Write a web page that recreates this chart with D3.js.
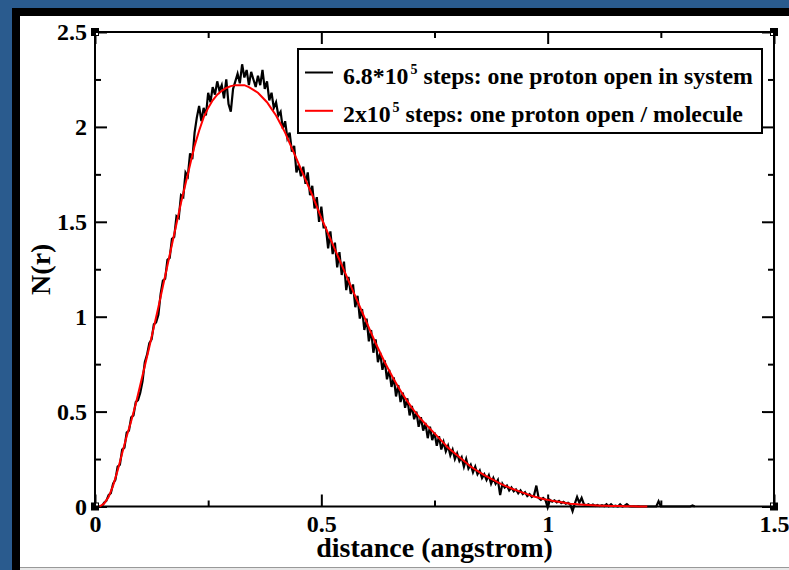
<!DOCTYPE html>
<html>
<head>
<meta charset="utf-8">
<script src="https://cdn.jsdelivr.net/npm/d3@7"></script>
<style>
  body { margin: 0; background: #2a5b8e; }
  svg { display: block; }
  text { font-family: "Liberation Serif", "Times New Roman", serif; font-weight: bold; }
</style>
</head>
<body>
<div id="chart"></div>
<script>
// N(r) vs distance, two runs
var xTicks = [0, 0.5, 1, 1.5];
var xMinor = [0.25, 0.75, 1.25];
var yTicks = [0, 0.5, 1, 1.5, 2, 2.5];
var yMinor = [0.25, 0.75, 1.25, 1.75, 2.25];

var seriesNames = ["6.8*10", "2x10"];
var seriesRest = [" steps: one proton open in system", " steps: one proton open / molecule"];

// black run, distance starts at 0.01, step 0.005
var blackStart = 0.01, blackStep = 0.005;
var blackVals = [
 0, 0, 0.02, 0.03, 0.06, 0.07, 0.12, 0.14, 0.21, 0.22,
 0.30, 0.31, 0.39, 0.40, 0.47, 0.48, 0.55, 0.56, 0.60, 0.66,
 0.76, 0.80, 0.86, 0.88, 0.96, 0.97, 1.01, 1.12, 1.19, 1.20,
 1.30, 1.31, 1.41, 1.42, 1.53, 1.52, 1.64, 1.63, 1.76, 1.74,
 1.86, 1.83, 1.97, 2.05, 2.11, 2.03, 2.10, 2.06, 2.18, 2.13,
 2.21, 2.17, 2.24, 2.19, 2.22, 2.15, 2.25, 2.12, 2.08, 2.20,
 2.24, 2.28, 2.23, 2.33, 2.26, 2.30, 2.22, 2.29, 2.25, 2.21,
 2.27, 2.22, 2.30, 2.20, 2.24, 2.14, 2.18, 2.10, 2.13, 2.06,
 2.08, 1.99, 2.03, 1.94, 1.97, 1.87, 1.90, 1.76, 1.80, 1.74,
 1.79, 1.70, 1.76, 1.64, 1.69, 1.57, 1.63, 1.50, 1.58, 1.47,
 1.47, 1.36, 1.45, 1.33, 1.39, 1.26, 1.34, 1.22, 1.29, 1.14,
 1.21, 1.12, 1.17, 1.05, 1.11, 0.99, 1.04, 0.93, 0.99, 0.87,
 0.93, 0.81, 0.88, 0.76, 0.81, 0.72, 0.77, 0.67, 0.72, 0.63,
 0.68, 0.58, 0.64, 0.55, 0.60, 0.52, 0.57, 0.48, 0.53, 0.46,
 0.50, 0.42, 0.47, 0.40, 0.44, 0.36, 0.42, 0.35, 0.39, 0.32,
 0.37, 0.30, 0.34, 0.29, 0.32, 0.27, 0.30, 0.25, 0.28, 0.24,
 0.26, 0.21, 0.25, 0.20, 0.22, 0.18, 0.21, 0.17, 0.19, 0.15,
 0.17, 0.14, 0.165, 0.12, 0.15, 0.12, 0.14, 0.06, 0.12, 0.10,
 0.11, 0.085, 0.10, 0.08, 0.09, 0.07, 0.085, 0.065, 0.075, 0.055,
 0.065, 0.05, 0.06, 0.11, 0.045, 0.035, 0.045, 0.035, -0.005, 0.035,
 0.025, 0.032, 0.022, 0.03, 0.018, 0.025, 0.015, 0.02, 0.01, -0.025,
 0.015, 0.05, 0.02, 0.045, 0.012, 0.005, 0.012, 0.004, 0.01, 0.003,
 0.008, 0.002, 0.007, 0.002, 0.012, 0.001, 0.012, 0.001, 0.004, 0,
 0.012, 0, 0.004, 0.012, 0.002, 0, 0.001, 0, 0.001, 0,
 0, 0, 0, 0, 0, 0, 0, 0.028, 0, 0,
 0, 0, 0, 0, 0, 0, 0, 0, 0, 0,
 0, 0, 0.005, 0
];

// red run, distance starts at 0.01, step 0.01
var redStart = 0.01, redStep = 0.01;
var redVals = [
 0, 0.015, 0.05, 0.11, 0.19, 0.28, 0.37, 0.45, 0.54, 0.64,
 0.74, 0.84, 0.945, 1.05, 1.16, 1.27, 1.38, 1.49, 1.60, 1.70,
 1.80, 1.90, 1.98, 2.05, 2.10, 2.14, 2.17, 2.19, 2.205, 2.215,
 2.22, 2.22, 2.22, 2.21, 2.195, 2.18, 2.155, 2.13, 2.095, 2.06,
 2.015, 1.97, 1.915, 1.86, 1.805, 1.75, 1.695, 1.64, 1.58, 1.52,
 1.465, 1.41, 1.355, 1.30, 1.245, 1.19, 1.135, 1.08, 1.025, 0.97,
 0.915, 0.86, 0.81, 0.76, 0.715, 0.67, 0.63, 0.59, 0.555, 0.52,
 0.49, 0.46, 0.435, 0.41, 0.385, 0.36, 0.335, 0.31, 0.29, 0.27,
 0.25, 0.23, 0.21, 0.195, 0.18, 0.165, 0.152, 0.14, 0.127, 0.115,
 0.105, 0.095, 0.086, 0.077, 0.069, 0.060, 0.053, 0.046, 0.040, 0.035,
 0.030, 0.026, 0.022, 0.018, 0.015, 0.013, 0.011, 0.009, 0.0075, 0.006,
 0.005, 0.004, 0.0035, 0.003, 0.0025, 0.002, 0.0015, 0.001, 0.0008, 0.0005,
 0.0003, 0
];

var w = 789, h = 570;
var pLeft = 95, pRight = 774, pTop = 32, pBottom = 506.5;

var svg = d3.select("#chart").append("svg")
    .attr("width", w)
    .attr("height", h);

// page frame
svg.append("rect").attr("width", w).attr("height", h).attr("fill", "#2a5b8e");
svg.append("rect").attr("x", 12).attr("y", 8).attr("width", w).attr("height", h).attr("fill", "#000");
svg.append("rect").attr("x", 20).attr("y", 16).attr("width", w).attr("height", 551).attr("fill", "#fff");
svg.append("rect").attr("x", 20).attr("y", 567).attr("width", w).attr("height", 1).attr("fill", "#999");
svg.append("rect").attr("x", 20).attr("y", 568).attr("width", w).attr("height", 2).attr("fill", "#e8e8e8");

var x = d3.scaleLinear().domain([0, 1.5]).range([pLeft, pRight]);
var y = d3.scaleLinear().domain([0, 2.5]).range([pBottom, pTop]);

var fmt = d3.format("~g");

function styleAxis(g) {
    g.select(".domain").remove();
    g.selectAll("line").attr("stroke", "#000").attr("stroke-width", 2);
    g.selectAll("text").attr("fill", "#000").style("font-size", "24px");
}

// bottom / left with labels
svg.append("g").attr("transform", "translate(0," + pBottom + ")")
    .call(d3.axisBottom(x).tickValues(xTicks).tickSize(-12).tickPadding(8).tickFormat(fmt)).call(styleAxis);
svg.append("g").attr("transform", "translate(0," + pBottom + ")")
    .call(d3.axisBottom(x).tickValues(xMinor).tickSize(-6).tickFormat("")).call(styleAxis);
svg.append("g").attr("transform", "translate(" + pLeft + ",0)")
    .call(d3.axisLeft(y).tickValues(yTicks).tickSize(-12).tickPadding(8).tickFormat(fmt)).call(styleAxis);
svg.append("g").attr("transform", "translate(" + pLeft + ",0)")
    .call(d3.axisLeft(y).tickValues(yMinor).tickSize(-6).tickFormat("")).call(styleAxis);
// mirrored ticks top / right
svg.append("g").attr("transform", "translate(0," + pTop + ")")
    .call(d3.axisTop(x).tickValues(xTicks).tickSize(-12).tickFormat("")).call(styleAxis);
svg.append("g").attr("transform", "translate(0," + pTop + ")")
    .call(d3.axisTop(x).tickValues(xMinor).tickSize(-6).tickFormat("")).call(styleAxis);
svg.append("g").attr("transform", "translate(" + pRight + ",0)")
    .call(d3.axisRight(y).tickValues(yTicks).tickSize(-12).tickFormat("")).call(styleAxis);
svg.append("g").attr("transform", "translate(" + pRight + ",0)")
    .call(d3.axisRight(y).tickValues(yMinor).tickSize(-6).tickFormat("")).call(styleAxis);

// frame
svg.append("rect")
    .attr("x", pLeft).attr("y", pTop)
    .attr("width", pRight - pLeft).attr("height", pBottom - pTop)
    .attr("fill", "none").attr("stroke", "#000").attr("stroke-width", 2);

// little corner squares
[[pLeft, pTop, 1, 1], [pRight, pTop, -1, 1], [pLeft, pBottom, 1, -1], [pRight, pBottom, -1, -1]].forEach(function(c) {
    svg.append("rect").attr("x", c[0] - 4).attr("y", c[1] - 4).attr("width", 8).attr("height", 8).attr("fill", "#000");
    svg.append("rect")
        .attr("x", c[2] > 0 ? c[0] + 1 : c[0] - 3)
        .attr("y", c[3] > 0 ? c[1] + 1 : c[1] - 3)
        .attr("width", 2).attr("height", 2).attr("fill", "#fff");
});

var blackData = blackVals.map(function(v, i) { return { d: blackStart + i * blackStep, n: v }; });
var redData = redVals.map(function(v, i) { return { d: redStart + i * redStep, n: v }; });

var line = d3.line()
    .x(function(p) { return x(p.d); })
    .y(function(p) { return y(p.n); });

svg.append("path")
    .attr("d", line(blackData))
    .attr("fill", "none")
    .attr("stroke", "#000")
    .attr("stroke-width", 2.2);

svg.append("path")
    .attr("d", line(redData))
    .attr("fill", "none")
    .attr("stroke", "#ff0000")
    .attr("stroke-width", 2);

// axis titles
svg.append("text")
    .attr("x", (pLeft + pRight) / 2)
    .attr("y", 557)
    .attr("text-anchor", "middle")
    .style("font-size", "28px")
    .text("distance (angstrom)");

svg.append("text")
    .attr("transform", "translate(50," + ((pTop + pBottom) / 2) + ") rotate(-90)")
    .attr("text-anchor", "middle")
    .style("font-size", "28px")
    .text("N(r)");

// legend
var legend = svg.append("g");
legend.append("rect")
    .attr("x", 298).attr("y", 49)
    .attr("width", 464).attr("height", 84)
    .attr("fill", "#fff").attr("stroke", "#000").attr("stroke-width", 2);

var legendColors = ["#000", "#ff0000"];
seriesNames.forEach(function(name, i) {
    var ly = 72.5 + i * 38.3;
    legend.append("line")
        .attr("x1", 305).attr("x2", 333)
        .attr("y1", ly).attr("y2", ly)
        .attr("stroke", legendColors[i]).attr("stroke-width", 2);
    var t = legend.append("text")
        .attr("x", 343)
        .attr("y", ly + 11)
        .style("font-size", "23.8px");
    t.append("tspan").text(name);
    t.append("tspan").attr("dx", 2).attr("dy", -10).style("font-size", "14px").text("5");
    t.append("tspan").attr("dy", 10).text(seriesRest[i]);
});
</script>
</body>
</html>
